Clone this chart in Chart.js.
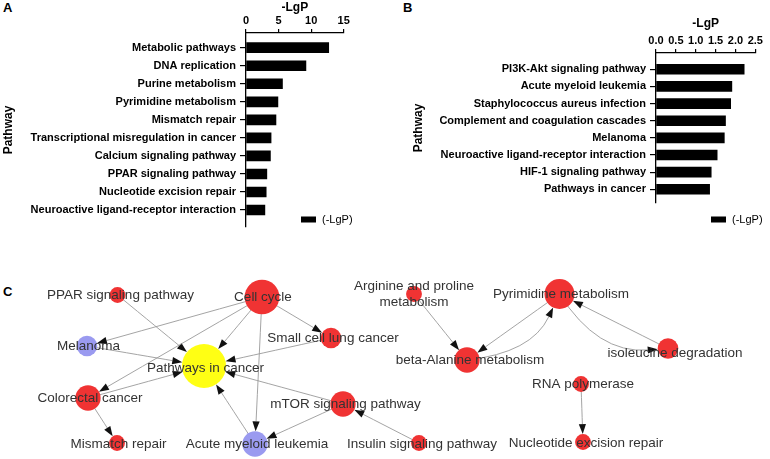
<!DOCTYPE html>
<html>
<head>
<meta charset="utf-8">
<script src="https://cdn.jsdelivr.net/npm/chart.js@4.4.1/dist/chart.umd.min.js"></script>
<style>
  body{margin:0;width:770px;height:459px;background:#fff;position:relative;overflow:hidden;font-family:"Liberation Sans",Arial,sans-serif}
  .pl{position:absolute;font-weight:bold;font-size:13px;line-height:1;color:#000}
  canvas{position:absolute}
  #cA{left:0;top:0}
  #cB{left:380px;top:0}
  #cC{left:0;top:250px}
</style>
</head>
<body>
<div class="pl" style="left:3px;top:1px">A</div>
<div class="pl" style="left:403px;top:1px">B</div>
<div class="pl" style="left:3px;top:285px">C</div>
<canvas id="cA" width="380" height="240"></canvas>
<canvas id="cB" width="390" height="240"></canvas>
<canvas id="cC" width="770" height="209"></canvas>
<script>
/* ---------- data ---------- */
// A: KEGG pathways, -LgP
var pathA=['Metabolic pathways','DNA replication','Purine metabolism','Pyrimidine metabolism','Mismatch repair',
  'Transcriptional misregulation in cancer','Calcium signaling pathway','PPAR signaling pathway',
  'Nucleotide excision repair','Neuroactive ligand-receptor interaction'];
var lgpA=[12.7,9.2,5.6,4.9,4.6,3.85,3.75,3.2,3.1,2.9];
var ticksA=[0,5,10,15];

// B
var pathB=['PI3K-Akt signaling pathway','Acute myeloid leukemia','Staphylococcus aureus infection',
  'Complement and coagulation cascades','Melanoma','Neuroactive ligand-receptor interaction',
  'HIF-1 signaling pathway','Pathways in cancer'];
var lgpB=[2.22,1.91,1.88,1.75,1.72,1.54,1.39,1.35];
var ticksB=[0,0.5,1,1.5,2,2.5];

// C: pathway network
var nodeName=['PPAR signaling pathway','Cell cycle','Melanoma','Pathways in cancer','Small cell lung cancer',
  'Colorectal cancer','mTOR signaling pathway','Mismatch repair','Acute myeloid leukemia','Insulin signaling pathway',
  'Arginine and proline\nmetabolism','Pyrimidine metabolism','beta-Alanine metabolism','isoleucine degradation',
  'RNA polymerase','Nucleotide excision repair'];
var nodeGroup=['up','up','down','hub','up','up','up','up','down','up','up','up','up','up','up','up'];
// network layout (figure units)
var nodeX=[117.5,262,87,204,331,88,343,117,255,419,414,559.5,467,668,581,583];
var nodeY=[295,297,346,366,338,398,404,443,444,443,294,294,360,348.5,384,442];
var edgeFrom=[0,1,1,1,1,1,2,4,5,5,8,6,6,9,10,11,12,11,13,14];
var edgeTo  =[3,2,3,4,5,8,3,3,3,7,3,3,8,6,12,12,11,13,11,15];
var edgeBend=[0,0,0,0,0,0,0,0,0,0,0,0,0,0,0,0,0.28,0.3,0,0];

/* ---------- styles ---------- */
var FONT='"Liberation Sans", Arial, sans-serif';
Chart.defaults.font.family=FONT;
Chart.defaults.color='#000';
var groupColor={up:'#f03333',down:'#9a9af0',hub:'#ffff14'};
var labelDx=[3,1,1.5,1.5,2,2,2.5,1.5,2,3,0,1.5,3,7,2,3];
var labelDy=[0,0,0,2,0.5,0,0.5,1,0,1,-8,0,0.5,4.5,0,1];

// small legend under each bar chart
var legendBox={id:'legendBox',afterDraw:function(c,a,o){
  var ds=c.data.datasets[0],ctx=c.ctx,x=c.chartArea.right+o.dx;
  ctx.save();
  ctx.fillStyle=ds.backgroundColor;ctx.fillRect(x,o.y-3,15,6);
  ctx.fillStyle='#000';ctx.font='11px '+FONT;ctx.textBaseline='middle';
  ctx.fillText(ds.label,x+21,o.y);
  ctx.restore();
}};

function barChart(id,labels,vals,ticks,o){
  var n=labels.length;
  return new Chart(document.getElementById(id),{
    type:'bar',
    data:{datasets:[{label:'(-LgP)',data:vals.map(function(v,i){return {x:v,y:i};}),
      backgroundColor:'#000',barThickness:10}]},
    options:{
      indexAxis:'y',responsive:false,animation:false,events:[],
      layout:{autoPadding:false,padding:{left:o.padL,right:o.padR,top:o.padT,bottom:240-o.bottom}},
      plugins:{legend:{display:false},tooltip:{enabled:false},legendBox:{dx:o.legDx,y:219.5}},
      scales:{
        x:{type:'linear',position:'top',min:ticks[0],max:ticks[ticks.length-1],offset:false,
          afterBuildTicks:function(s){s.ticks=ticks.map(function(v){return {value:v};});},
          afterFit:function(s){s.height=o.top-o.padT;},
          ticks:{autoSkip:false,maxRotation:0,padding:1,font:{size:11,weight:'bold'},
            callback:function(v){return o.dec?v.toFixed(1):v;}},
          grid:{drawOnChartArea:false,offset:false,tickLength:4,color:'#000',lineWidth:1.2},
          border:{color:'#000',width:1.3},
          title:{display:true,text:'-LgP',font:{size:12,weight:'bold'},padding:{top:0,bottom:0}}},
        y:{type:'linear',reverse:true,min:o.ymin,max:n-1+o.ymax,offset:false,
          afterBuildTicks:function(s){s.ticks=labels.map(function(l,i){return {value:i};});},
          afterFit:function(s){s.width=o.left-o.padL;},
          ticks:{autoSkip:false,padding:4,font:{size:11,weight:'bold'},
            callback:function(v){return labels[v];}},
          grid:{drawOnChartArea:false,offset:false,tickLength:6,color:'#000',lineWidth:1.2},
          border:{color:'#000',width:1.3},
          title:{display:true,text:'Pathway',font:{size:12,weight:'bold'},padding:{top:1,bottom:0}}}
      }
    },
    plugins:[legendBox]
  });
}

barChart('cA',pathA,lgpA,ticksA,{left:246,top:33,bottom:227,padL:0,padR:36.3,padT:0,ymin:-0.815,ymax:0.94,legDx:-42.7,dec:false});
barChart('cB',pathB,lgpB,ticksB,{left:276,top:53,bottom:203,padL:30,padR:14.7,padT:16,ymin:-0.95,ymax:0.8,legDx:-44.3,dec:true});

/* ---------- network ---------- */
var degree=nodeName.map(function(_,i){
  return edgeFrom.filter(function(f){return f===i;}).length+edgeTo.filter(function(t){return t===i;}).length;
});
var radius=degree.map(function(d){return 5.6+2.35*d;});

var network={id:'network',
  beforeDatasetsDraw:function(c){
    var ctx=c.ctx,pts=c.getDatasetMeta(0).data;
    ctx.save();
    edgeFrom.forEach(function(f,k){
      var t=edgeTo[k],x1=pts[f].x,y1=pts[f].y,x2=pts[t].x,y2=pts[t].y;
      var dx=x2-x1,dy=y2-y1,b=edgeBend[k];
      var cx=(x1+x2)/2-dy*b,cy=(y1+y2)/2+dx*b;
      var ux=x2-cx,uy=y2-cy,ul=Math.hypot(ux,uy);ux/=ul;uy/=ul;
      var ex=x2-ux*radius[t],ey=y2-uy*radius[t];
      var bx=ex-ux*10,by=ey-uy*10;
      ctx.strokeStyle='#9a9a9a';ctx.lineWidth=0.9;
      ctx.beginPath();ctx.moveTo(x1,y1);ctx.quadraticCurveTo(cx,cy,bx,by);ctx.stroke();
      ctx.fillStyle='#111';
      ctx.beginPath();ctx.moveTo(ex,ey);
      ctx.lineTo(bx-uy*3.6,by+ux*3.6);ctx.lineTo(bx+uy*3.6,by-ux*3.6);ctx.closePath();ctx.fill();
    });
    ctx.restore();
  },
  afterDatasetsDraw:function(c){
    var ctx=c.ctx,pts=c.getDatasetMeta(0).data;
    ctx.save();
    ctx.font='13.5px '+FONT;ctx.fillStyle='#333';ctx.textAlign='center';ctx.textBaseline='middle';
    nodeName.forEach(function(nm,i){
      nm.split('\n').forEach(function(line,j){
        ctx.fillText(line,pts[i].x+labelDx[i],pts[i].y+labelDy[i]+j*16.7);
      });
    });
    ctx.restore();
  }
};

new Chart(document.getElementById('cC'),{
  type:'bubble',
  data:{datasets:[{label:'pathways',
    data:nodeX.map(function(x,i){return {x:x,y:nodeY[i],r:radius[i]};}),
    backgroundColor:nodeGroup.map(function(g){return groupColor[g];}),borderWidth:0,clip:false}]},
  options:{
    responsive:false,animation:false,events:[],
    layout:{autoPadding:false,padding:0},
    plugins:{legend:{display:false},tooltip:{enabled:false}},
    scales:{x:{type:'linear',display:false,min:0,max:770},
            y:{type:'linear',display:false,min:250,max:459,reverse:true}}
  },
  plugins:[network]
});
</script>
</body>
</html>
